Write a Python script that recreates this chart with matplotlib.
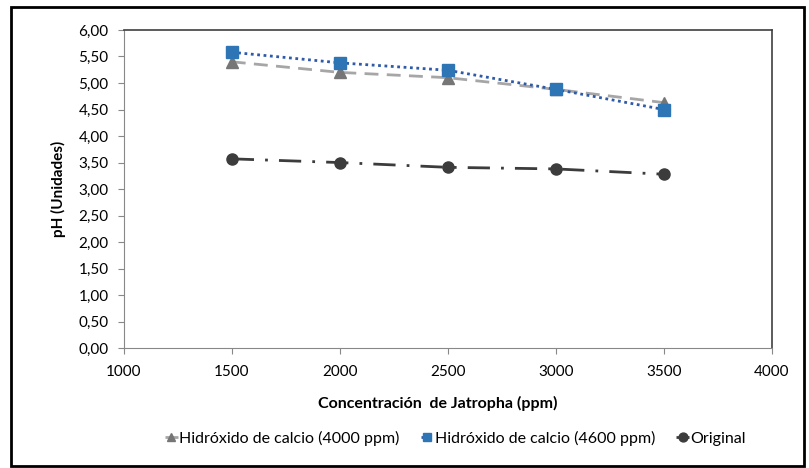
import matplotlib.pyplot as plt
from matplotlib.patches import Rectangle
from matplotlib.ticker import FuncFormatter, MultipleLocator

plt.rcParams['font.family'] = ['Lato', 'DejaVu Sans']

# concentración de Jatropha (ppm) y pH medido
conc = [1500, 2000, 2500, 3000, 3500]
ph_4000 = [5.40, 5.20, 5.10, 4.88, 4.63]
ph_4600 = [5.58, 5.38, 5.24, 4.88, 4.50]
ph_orig = [3.57, 3.50, 3.41, 3.38, 3.28]

fig = plt.figure(figsize=(8.09, 4.68), dpi=100)
ax = fig.add_axes([0.153, 0.256, 0.801, 0.680])

ax.plot(conc, ph_4000, color='#a6a6a6', linestyle=(0, (5, 3)), linewidth=2,
        marker='^', markersize=8, markerfacecolor='#767676', markeredgecolor='#767676',
        label='Hidróxido de calcio (4000 ppm)')
ax.plot(conc, ph_4600, color='#2e5aa8', linestyle=(0, (1, 1.3)), linewidth=2,
        marker='s', markersize=8, markerfacecolor='#2e75b6', markeredgecolor='#2e75b6',
        label='Hidróxido de calcio (4600 ppm)')
ax.plot(conc, ph_orig, color='#3c3c3c', linestyle=(0, (8, 4, 1, 4)), linewidth=2,
        marker='o', markersize=8, markerfacecolor='#3c3c3c', markeredgecolor='#3c3c3c',
        label='Original')

ax.set_xlim(1000, 4000)
ax.set_ylim(0, 6)
ax.xaxis.set_major_locator(MultipleLocator(500))
ax.yaxis.set_major_locator(MultipleLocator(0.5))
ax.yaxis.set_major_formatter(FuncFormatter(lambda v, p: f'{v:.2f}'.replace('.', ',')))
ax.tick_params(labelsize=11, color='#888888', length=4, direction='out')
ax.tick_params(axis='x', pad=8)
ax.tick_params(axis='y', pad=7)

for s in ['left', 'bottom']:
    ax.spines[s].set_color('#888888')
for s in ['top', 'right']:
    ax.spines[s].set_color('#404040')
    ax.spines[s].set_linewidth(1.2)

ax.set_xlabel('Concentración  de Jatropha (ppm)', fontsize=11.5, fontweight='bold', labelpad=12)
ax.xaxis.label.set_x(0.485)
ax.set_ylabel('pH (Unidades)', fontsize=11, fontweight='bold', labelpad=9)

ax.legend(loc='upper center', bbox_to_anchor=(0.512, -0.26), ncol=3, frameon=False,
          fontsize=11.5, handlelength=0.8, handletextpad=0.1, columnspacing=1.3,
          markerscale=0.8, borderaxespad=0, borderpad=0)

# marco exterior del gráfico
fig.patches.append(Rectangle((0.014, 0.004), 0.98, 0.98, transform=fig.transFigure,
                             fill=False, edgecolor='black', linewidth=2))

fig.savefig('out.png', dpi=100)
